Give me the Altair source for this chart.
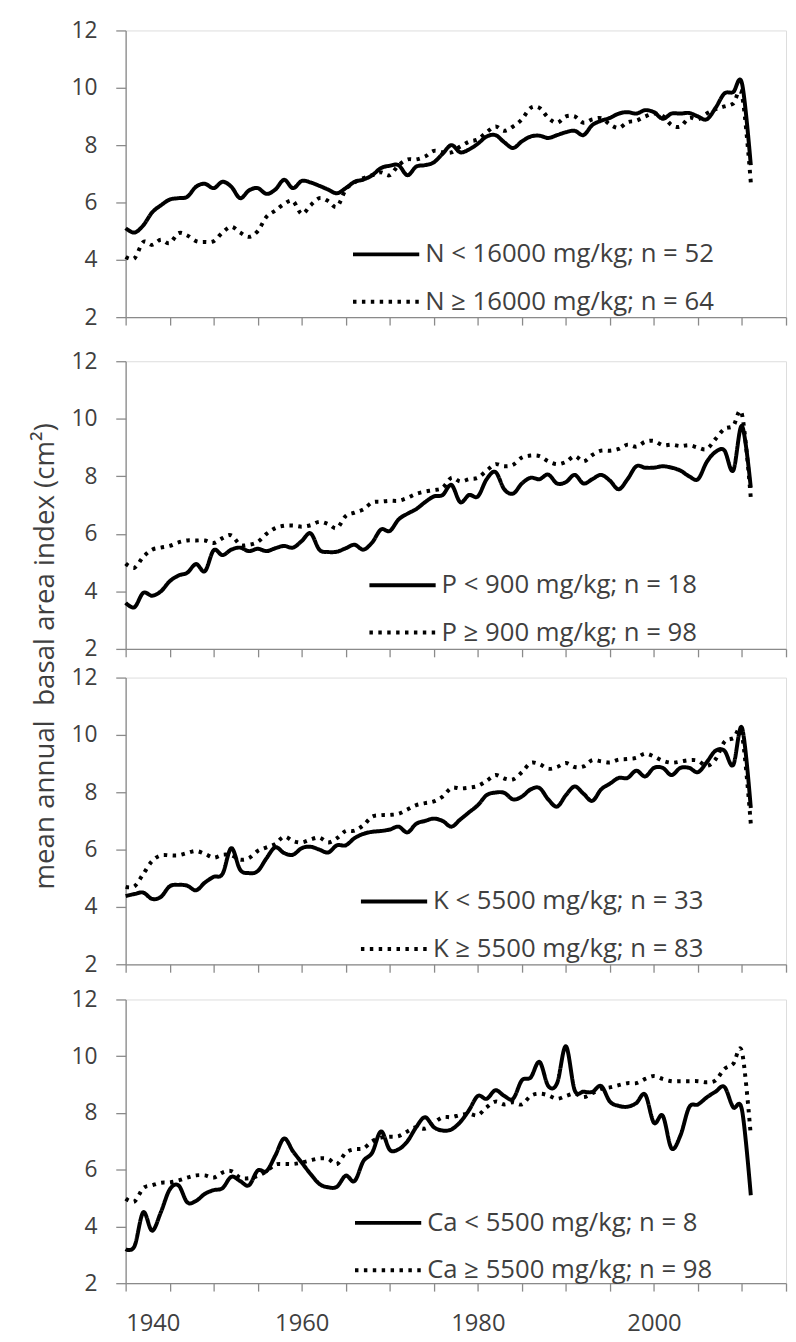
import altair as alt
import pandas as pd

years = list(range(1940, 2012))

n_low = [5.1, 4.95, 5.2, 5.65, 5.9, 6.1, 6.15, 6.2, 6.55, 6.65,
         6.5, 6.72, 6.55, 6.15, 6.42, 6.5, 6.3, 6.45, 6.79, 6.5,
         6.75, 6.7, 6.58, 6.45, 6.32, 6.5, 6.72, 6.8, 6.95, 7.2,
         7.28, 7.3, 6.95, 7.25, 7.3, 7.4, 7.7, 8.0, 7.75, 7.85,
         8.05, 8.3, 8.35, 8.1, 7.9, 8.13, 8.3, 8.33, 8.25, 8.35,
         8.45, 8.5, 8.35, 8.7, 8.85, 8.95, 9.1, 9.15, 9.1, 9.22,
         9.15, 8.92, 9.1, 9.1, 9.12, 9.0, 8.9, 9.3, 9.8, 9.85,
         10.15, 7.3]
n_high = [4.1, 4.05, 4.62, 4.52, 4.7, 4.58, 4.93, 4.85, 4.65, 4.62,
          4.65, 4.95, 5.15, 4.95, 4.8, 5.0, 5.5, 5.72, 5.95, 6.05,
          5.6, 5.9, 6.15, 6.05, 5.85, 6.45, 6.7, 6.85, 6.95, 7.05,
          6.95, 7.3, 7.5, 7.5, 7.6, 7.8, 7.75, 7.75, 7.95, 8.12,
          8.2, 8.45, 8.65, 8.5, 8.65, 8.9, 9.3, 9.3, 8.95, 8.78,
          9.0, 9.0, 8.78, 8.9, 8.94, 8.72, 8.6, 8.8, 8.85, 9.0,
          9.1, 9.02, 8.7, 8.65, 8.95, 8.9, 9.1, 9.25, 9.35, 9.45,
          9.75, 6.7]

p_low = [3.6, 3.45, 3.95, 3.85, 4.0, 4.35, 4.55, 4.65, 4.95, 4.7,
         5.43, 5.26, 5.45, 5.52, 5.4, 5.48, 5.4, 5.5, 5.58, 5.52,
         5.75, 6.02, 5.45, 5.37, 5.38, 5.5, 5.62, 5.45, 5.7, 6.15,
         6.1, 6.5, 6.7, 6.86, 7.1, 7.3, 7.35, 7.7, 7.1, 7.35,
         7.3, 7.9, 8.15, 7.55, 7.4, 7.75, 7.95, 7.9, 8.06, 7.75,
         7.8, 8.05, 7.75, 7.9, 8.05, 7.85, 7.55, 7.9, 8.35, 8.3,
         8.3, 8.35, 8.3, 8.2, 8.0, 7.9, 8.5, 8.85, 8.9, 8.2,
         9.75, 7.6]
p_high = [4.97, 4.82, 5.2, 5.45, 5.52, 5.58, 5.7, 5.77, 5.77, 5.77,
          5.68, 5.85, 5.95, 5.62, 5.62, 5.72, 6.0, 6.2, 6.28, 6.29,
          6.25, 6.3, 6.42, 6.34, 6.2, 6.62, 6.74, 6.85, 7.09, 7.12,
          7.15, 7.15, 7.25, 7.39, 7.47, 7.52, 7.6, 7.95, 7.82, 7.9,
          7.95, 8.2, 8.42, 8.35, 8.4, 8.65, 8.72, 8.7, 8.52, 8.42,
          8.5, 8.7, 8.52, 8.74, 8.89, 8.89, 8.95, 9.1, 9.03, 9.2,
          9.23, 9.08, 9.1, 9.05, 9.08, 9.0, 8.95, 9.3, 9.65, 9.75,
          10.15, 7.25]

k_low = [4.38, 4.45, 4.5, 4.28, 4.35, 4.72, 4.77, 4.74, 4.58, 4.85,
         5.05, 5.15, 6.05, 5.3, 5.18, 5.25, 5.7, 6.08, 5.88, 5.82,
         6.05, 6.1, 6.0, 5.9, 6.15, 6.15, 6.4, 6.55, 6.62, 6.65,
         6.7, 6.8, 6.6, 6.9, 7.0, 7.08, 7.0, 6.8, 7.05, 7.3,
         7.55, 7.9, 7.99, 7.98, 7.75, 7.85, 8.1, 8.15, 7.75, 7.5,
         7.9, 8.2, 7.95, 7.7, 8.1, 8.3, 8.5, 8.5, 8.75, 8.55,
         8.85, 8.85, 8.6, 8.85, 8.85, 8.7, 9.05, 9.45, 9.45, 8.95,
         10.25, 7.45]
k_high = [4.7, 4.72, 5.15, 5.6, 5.8, 5.8, 5.8, 5.88, 5.95, 5.85,
          5.72, 5.82, 5.8, 5.65, 5.7, 5.95, 6.08, 6.2, 6.45, 6.3,
          6.25, 6.35, 6.42, 6.25, 6.4, 6.65, 6.66, 6.85, 7.15, 7.2,
          7.21, 7.25, 7.4, 7.55, 7.62, 7.68, 7.85, 8.15, 8.13, 8.16,
          8.22, 8.4, 8.6, 8.48, 8.45, 8.7, 9.02, 8.98, 8.82, 8.88,
          9.02, 8.88, 8.9, 9.12, 9.08, 9.04, 9.14, 9.16, 9.2, 9.35,
          9.25, 9.1, 9.03, 9.07, 9.12, 9.1, 8.92, 9.15, 9.75, 9.88,
          10.0, 6.9]

ca_low = [3.2, 3.3, 4.5, 3.85, 4.5, 5.3, 5.45, 4.85, 4.9, 5.15,
          5.28, 5.35, 5.75, 5.6, 5.45, 5.97, 5.95, 6.5, 7.1, 6.65,
          6.25, 5.85, 5.5, 5.38, 5.4, 5.79, 5.6, 6.3, 6.6, 7.35,
          6.7, 6.72, 7.0, 7.5, 7.85, 7.5, 7.38, 7.42, 7.68, 8.1,
          8.6, 8.5, 8.8, 8.6, 8.5, 9.15, 9.25, 9.8, 8.95, 9.05,
          10.35, 8.8, 8.75, 8.74, 8.95, 8.4, 8.25, 8.22, 8.35, 8.65,
          7.65, 7.9, 6.75, 7.2, 8.2, 8.3, 8.55, 8.75, 8.92, 8.2,
          8.1, 5.1]
ca_high = [4.98, 4.88, 5.35, 5.45, 5.54, 5.55, 5.62, 5.72, 5.8, 5.8,
           5.72, 5.9, 5.95, 5.72, 5.7, 5.78, 5.95, 6.18, 6.2, 6.2,
           6.25, 6.33, 6.4, 6.38, 6.2, 6.6, 6.72, 6.75, 7.0, 7.13,
           7.16, 7.18, 7.35, 7.5, 7.45, 7.65, 7.85, 7.85, 7.93, 7.97,
           7.92, 8.2, 8.4, 8.3, 8.38, 8.3, 8.6, 8.68, 8.62, 8.5,
           8.6, 8.68, 8.56, 8.7, 8.85, 8.9, 8.98, 9.05, 9.05, 9.2,
           9.3, 9.2, 9.12, 9.12, 9.12, 9.12, 9.08, 9.15, 9.55, 9.73,
           10.15, 7.2]

legend_labels = [
    ("N < 16000 mg/kg; n = 52", "N \u2265 16000 mg/kg; n = 64"),
    ("P < 900 mg/kg; n = 18", "P \u2265 900 mg/kg; n = 98"),
    ("K < 5500 mg/kg; n = 33", "K \u2265 5500 mg/kg; n = 83"),
    ("Ca < 5500 mg/kg; n = 8", "Ca \u2265 5500 mg/kg; n = 98"),
]
y_title = "mean annual\u00a0 basal area index (cm\u00b2)"
x_ticks = list(range(1940, 2016, 5))
y_ticks = [2, 4, 6, 8, 10, 12]

FONT = "Open Sans"
AXIS_GREY = "#8a8a8a"
TEXT = "#3f3f3f"


def panel(low, high, labs, height, show_x_labels, title, legend_x, legend_y):
    df = pd.DataFrame({
        "year": years + years,
        "value": low + high,
        "series": [labs[0]] * len(years) + [labs[1]] * len(years),
    })
    x_axis_kw = dict(values=x_ticks, title=None, tickSize=8, grid=False,
                     domainColor=AXIS_GREY, tickColor=AXIS_GREY,
                     domainWidth=1.3, tickWidth=1.3)
    if show_x_labels:
        x_axis_kw.update(labels=True, format="d",
                         labelExpr="datum.value % 20 === 0 ? datum.label : ''",
                         labelFontSize=24, labelFont=FONT, labelColor=TEXT,
                         labelPadding=21)
    else:
        x_axis_kw.update(labels=False)
    y_axis_kw = dict(values=y_ticks, tickSize=10, grid=False,
                     domainColor=AXIS_GREY, tickColor=AXIS_GREY,
                     domainWidth=1.3, tickWidth=1.3,
                     labelFontSize=23, labelFont=FONT, labelColor=TEXT,
                     labelPadding=19)
    if title:
        y_axis_kw.update(title=title, titleX=-73, titleY=298, titleAngle=270,
                         titleAlign="center", titleBaseline="alphabetic",
                         titleFontSize=28, titleFont=FONT,
                         titleFontWeight="normal", titleColor=TEXT)
    else:
        y_axis_kw.update(title=None)

    return alt.Chart(df).mark_line(
        color="black", strokeWidth=4, interpolate="cardinal", tension=0,
        strokeCap="butt"
    ).encode(
        x=alt.X("year:Q", scale=alt.Scale(domain=[1940, 2015], nice=False, zero=False),
                axis=alt.Axis(**x_axis_kw)),
        y=alt.Y("value:Q", scale=alt.Scale(domain=[2, 12], nice=False, zero=False),
                axis=alt.Axis(**y_axis_kw)),
        strokeDash=alt.StrokeDash(
            "series:N",
            scale=alt.Scale(domain=list(labs), range=[[1, 0], [3.5, 5.5]]),
            legend=alt.Legend(
                title=None, orient="none", legendX=legend_x, legendY=legend_y,
                symbolType="stroke", symbolSize=4489, symbolStrokeWidth=4,
                symbolStrokeColor="black", labelFont=FONT, labelFontSize=26,
                labelColor=TEXT, labelLimit=600, rowPadding=21, clipHeight=23,
                labelOffset=4, padding=0,
            ),
        ),
    ).properties(width=668, height=height)


p1 = panel(n_low, n_high, legend_labels[0], 290, False, None, 228, 215)
p2 = panel(p_low, p_high, legend_labels[1], 291, False, y_title, 244.6, 215)
p3 = panel(k_low, k_high, legend_labels[2], 290, False, None, 236, 215)
p4 = panel(ca_low, ca_high, legend_labels[3], 287, True, None, 230, 214.5)

inner1 = alt.vconcat(p3, p4, spacing=35.6, bounds="flush").resolve_scale(strokeDash="independent")
inner2 = alt.vconcat(p2, inner1, spacing=29, bounds="flush").resolve_scale(strokeDash="independent")
chart = alt.vconcat(p1, inner2, spacing=44.6, bounds="flush").resolve_scale(
    strokeDash="independent"
).properties(
    padding={"left": 23, "top": 3, "right": 0, "bottom": 0}
).configure_view(stroke=None).configure(font=FONT)

chart.save("out.html", embed_options={"renderer": "svg", "actions": False})
